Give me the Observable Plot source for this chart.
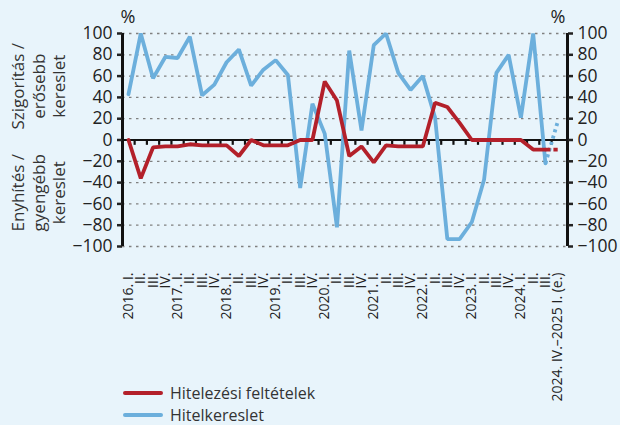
<!DOCTYPE html>
<html><head><meta charset="utf-8">
<script src="https://cdn.jsdelivr.net/npm/d3@7"></script>
<script src="https://cdn.jsdelivr.net/npm/@observablehq/plot@0.6"></script>
<style>
html,body{margin:0;padding:0;background:#e8f4fb;}
#wrap{position:relative;width:620px;height:425px;overflow:hidden;background:#e8f4fb;font-family:"Open Sans",sans-serif;}
#wrap svg{position:absolute;left:0;top:0;}
.leg{position:absolute;left:123px;font-size:16px;color:#333;display:flex;align-items:center;line-height:16px;height:16px;}
.leg .sw{display:inline-block;width:40px;height:4px;margin-right:7px;border-radius:2px;}
</style></head><body><div id="wrap"></div>
<script>
// Quarter tick labels
const quarterLabels = [
  "2016. I.","II.","III.","IV.",
  "2017. I.","II.","III.","IV.",
  "2018. I.","II.","III.","IV.",
  "2019. I.","II.","III.","IV.",
  "2020. I.","II.","III.","IV.",
  "2021. I.","II.","III.","IV.",
  "2022. I.","II.","III.","IV.",
  "2023. I.","II.","III.","IV.",
  "2024. I.","II.","III.","2024. IV.–2025 I. (e.)"
];
// Hitelezési feltételek (credit conditions), net %
const conditions = [0,-36,-7,-6,-6,-4,-5,-5,-5,-15,0,-5,-5,-5,0,0,55,37,-15,-6,-21,-5,-6,-6,-6,35,31,16,0,0,0,0,0,-9,-9,-9];
// Hitelkereslet (credit demand), net %
const demand = [43,100,58,78,77,97,42,52,73,85,51,66,75,61,-45,34,6,-82,84,9,89,100,63,47,60,21,-93,-93,-77,-37,63,80,21,100,-22,17];
const seriesNames = ["Hitelezési feltételek","Hitelkereslet"];
const seriesColors = ["#b3202a","#6cafdc"];
const yTicks = [-100,-80,-60,-40,-20,0,20,40,60,80,100];
const estimateIndex = 35; // last point is an estimate (dashed)

const idx = d3.range(quarterLabels.length);
const toRows = (vals) => vals.map((v,i)=>({i, v}));
const condRows = toRows(conditions), demRows = toRows(demand);
const solid = rows => rows.filter(d => d.i < estimateIndex);
const est = rows => rows.filter(d => d.i >= estimateIndex - 1);

const xDomain = [-0.49, 35.8];
const boundaries = d3.range(0.5, estimateIndex, 1);

const chart = Plot.plot({
  width: 620, height: 425,
  marginLeft: 122, marginRight: 53, marginTop: 33, marginBottom: 179,
  style: {background: "transparent", fontFamily: "'Open Sans', sans-serif", color: "#222", overflow: "visible"},
  x: {domain: xDomain, axis: null},
  y: {domain: [-100, 100], axis: null},
  marks: [
    Plot.ruleY(yTicks.filter(d => d !== 0), {stroke: "#808080", strokeWidth: 1.3, strokeDasharray: "2.5,4.5"}),
    Plot.ruleY([0], {stroke: "#111", strokeWidth: 2.2}),
    Plot.ruleX(boundaries, {y1: 0, y2: -5, stroke: "#111", strokeWidth: 2.2}),
    Plot.line(solid(demRows), {x: "i", y: "v", stroke: seriesColors[1], strokeWidth: 3.8, strokeLinejoin: "miter"}),
    Plot.line(est(demRows), {x: "i", y: "v", stroke: seriesColors[1], strokeWidth: 3.8, strokeDasharray: "3,3.5", strokeLinecap: "butt"}),
    Plot.line(solid(condRows), {x: "i", y: "v", stroke: seriesColors[0], strokeWidth: 3.8, strokeLinejoin: "miter"}),
    Plot.line(est(condRows), {x: "i", y: "v", stroke: seriesColors[0], strokeWidth: 3.8, strokeDasharray: "5,3", strokeLinecap: "butt"}),
    Plot.ruleX(xDomain, {stroke: "#111", strokeWidth: 3}),
    Plot.axisY(yTicks, {anchor: "left", tickSize: 5, tickPadding: 5, fontSize: 17.5, strokeWidth: 2.5, label: null}),
    Plot.axisY(yTicks, {anchor: "right", tickSize: 5, tickPadding: 5, fontSize: 17.5, strokeWidth: 2.5, label: null}),
    Plot.axisX(idx, {anchor: "bottom", tickSize: 0, tickPadding: 26, tickRotate: -90, fontSize: 14,
      tickFormat: i => quarterLabels[i], label: null})
  ]
});

const wrap = document.getElementById("wrap");
wrap.appendChild(chart);

// Side labels and % units
const svg = d3.select(chart);
const ys = chart.scale("y");
const sideLabels = [
  {lines: ["Szigorítás /", "erősebb", "kereslet"], v: 50},
  {lines: ["Enyhítés /", "gyengébb", "kereslet"], v: -50}
];
const lineX = [18, 39, 59];
sideLabels.forEach(g => {
  const cy = ys.apply(g.v);
  g.lines.forEach((t, k) => {
    svg.append("text")
      .attr("transform", `translate(${lineX[k]},${cy}) rotate(-90)`)
      .attr("text-anchor", "middle")
      .attr("dy", "0.35em")
      .attr("font-size", 17)
      .attr("font-family", "'Open Sans', sans-serif")
      .attr("fill", "#333")
      .text(t);
  });
});
[128, 558].forEach(x => {
  svg.append("text").attr("x", x).attr("y", 23).attr("text-anchor", "middle")
    .attr("font-size", 18).attr("font-family", "'Open Sans', sans-serif").attr("fill", "#222").text("%");
});

// Legend
seriesNames.forEach((name, k) => {
  const d = document.createElement("div");
  d.className = "leg";
  d.style.top = (385 + k * 22) + "px";
  d.innerHTML = `<span class="sw" style="background:${seriesColors[k]}"></span><span>${name}</span>`;
  wrap.appendChild(d);
});
</script>
</body></html>
